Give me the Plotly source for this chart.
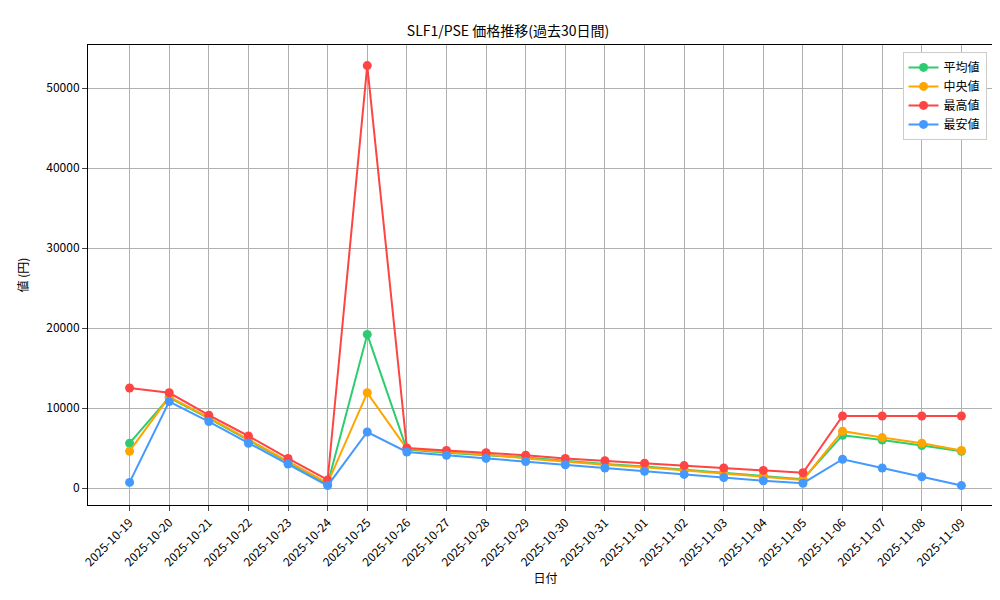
import plotly.graph_objects as go

dates = ["2025-10-19","2025-10-20","2025-10-21","2025-10-22","2025-10-23","2025-10-24","2025-10-25",
         "2025-10-26","2025-10-27","2025-10-28","2025-10-29","2025-10-30","2025-10-31","2025-11-01",
         "2025-11-02","2025-11-03","2025-11-04","2025-11-05","2025-11-06","2025-11-07","2025-11-08","2025-11-09"]
avg_vals = [5600,11300,8700,6000,3300,500,19200,4800,4400,4100,3800,3400,3000,2700,2300,1900,1500,1100,6600,6000,5300,4600]
med_vals = [4600,11400,8800,6100,3400,600,11900,4900,4500,4200,3700,3300,2900,2600,2200,1800,1400,1000,7100,6300,5600,4700]
max_vals = [12500,11900,9100,6500,3700,1000,52800,5000,4700,4400,4100,3700,3400,3100,2800,2500,2200,1900,9000,9000,9000,9000]
min_vals = [700,10800,8300,5600,3000,300,7000,4500,4100,3700,3300,2900,2500,2100,1700,1300,900,600,3600,2500,1400,300]

series = [("平均値", avg_vals, "#2ecc71"), ("中央値", med_vals, "#ffa500"),
          ("最高値", max_vals, "#ff4444"), ("最安値", min_vals, "#4499ff")]

fig = go.Figure()
for name, vals, color in series:
    fig.add_trace(go.Scatter(x=dates, y=vals, name=name, mode="lines+markers",
                             line=dict(color=color, width=2), marker=dict(color=color, size=9)))

font = "Noto Sans CJK JP"
fig.update_layout(
    width=1000, height=600, plot_bgcolor="white", paper_bgcolor="white",
    font=dict(family=font, size=12, color="black"),
    title=dict(text="SLF1/PSE 価格推移(過去30日間)", x=0.5, xanchor="center",
               y=0.962, yanchor="middle", font=dict(size=14)),
    margin=dict(l=80, r=5, t=37, b=103, autoexpand=False),
    legend=dict(x=0.982, y=0.985, xanchor="right", yanchor="top", bordercolor="#cccccc", borderwidth=1,
                bgcolor="white", font=dict(size=12)),
    xaxis=dict(type="category", range=[-1.05, 22.05], showgrid=True, gridcolor="#b0b0b0",
               tickangle=-45, ticks="outside", showline=True, linecolor="black", mirror=True,
               automargin=False, title=dict(text="日付", font=dict(size=12), standoff=5)),
    yaxis=dict(range=[-2125, 55375], dtick=10000, tickformat="d", showgrid=True, gridcolor="#b0b0b0",
               zeroline=False, ticks="outside", showline=True, linecolor="black", mirror=True,
               automargin=False, title=dict(text="値 (円)", font=dict(size=12))),
)
fig.write_html("out.html")
